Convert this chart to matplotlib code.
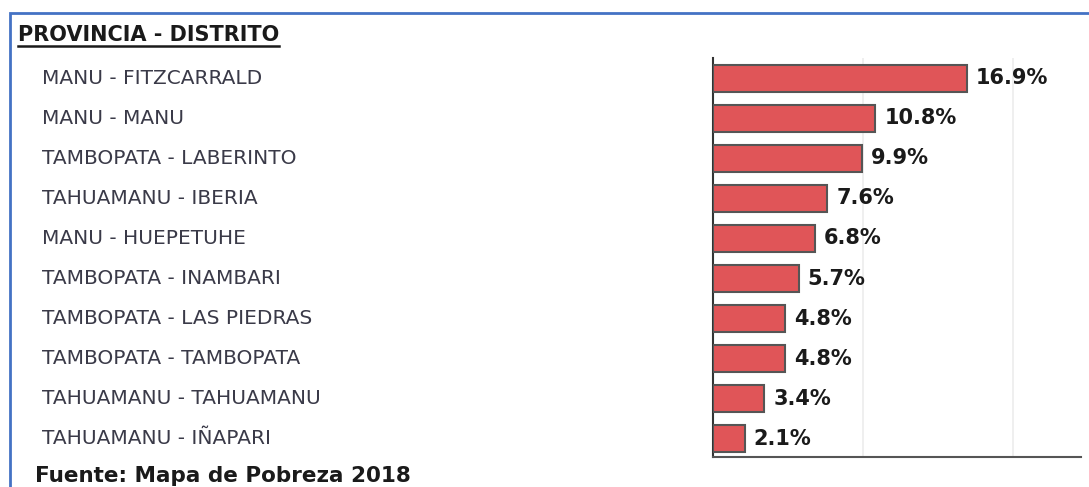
import matplotlib
matplotlib.use("Agg")
import matplotlib.pyplot as plt
from matplotlib.patches import Rectangle

categories = [
    "MANU - FITZCARRALD",
    "MANU - MANU",
    "TAMBOPATA - LABERINTO",
    "TAHUAMANU - IBERIA",
    "MANU - HUEPETUHE",
    "TAMBOPATA - INAMBARI",
    "TAMBOPATA - LAS PIEDRAS",
    "TAMBOPATA - TAMBOPATA",
    "TAHUAMANU - TAHUAMANU",
    "TAHUAMANU - IÑAPARI",
]
values = [16.9, 10.8, 9.9, 7.6, 6.8, 5.7, 4.8, 4.8, 3.4, 2.1]
value_labels = ["16.9%", "10.8%", "9.9%", "7.6%", "6.8%", "5.7%", "4.8%", "4.8%", "3.4%", "2.1%"]
title = "PROVINCIA - DISTRITO"
source = "Fuente: Mapa de Pobreza 2018"

W, H = 1089, 487
fig = plt.figure(figsize=(W / 100, H / 100), dpi=100)
fig.patch.set_facecolor("white")

# blue frame (left and top edges visible)
fig.add_artist(Rectangle((10 / W, -0.1), 1.2, (H - 13) / H + 0.1, transform=fig.transFigure,
                         fill=False, edgecolor="#4472C4", linewidth=2.0))

# axes: left spine x=713, right ~1081, top y=58, bottom y=457
ax = fig.add_axes([713 / W, (H - 457) / H, (1081 - 713) / W, (457 - 58) / H])
y = list(range(len(categories)))
ax.barh(y, values, height=0.67, color="#E05558", edgecolor="#555555", linewidth=1.5, zorder=3)
ax.set_xlim(0, 24.5)
ax.set_ylim(9.46, -0.51)
ax.set_xticks([10, 20])
ax.xaxis.grid(True, color="#ececec", linewidth=1.2, zorder=0)
ax.tick_params(axis="both", length=0, labelbottom=False, labelleft=False)
for s in ["top", "right"]:
    ax.spines[s].set_visible(False)
ax.spines["left"].set_color("#333333")
ax.spines["left"].set_linewidth(1.5)
ax.spines["bottom"].set_color("#555555")
ax.spines["bottom"].set_linewidth(1.5)

for yi, v, lab in zip(y, values, value_labels):
    ax.text(v + 0.6, yi, lab, va="center", ha="left", fontsize=15, fontweight="bold",
            color="#1a1a1a", zorder=4)

# category labels
for yi, cat in zip(y, categories):
    ypx = 78.5 + 40 * yi
    fig.text(42 / W, 1 - ypx / H, cat, ha="left", va="center", fontsize=14.5,
             color="#3a3a48")

t = fig.text(18 / W, 1 - 35 / H, title, ha="left", va="center", fontsize=15,
             fontweight="bold", color="#1a1a1a")
fig.canvas.draw()
bb = t.get_window_extent(renderer=fig.canvas.get_renderer())
# underline matching title width
fig.add_artist(plt.Line2D([18 / W, bb.x1 / W], [1 - 46 / H, 1 - 46 / H], color="#1a1a1a",
                          linewidth=1.8, transform=fig.transFigure))

fig.text(35 / W, 1 - 476 / H, source, ha="left", va="center", fontsize=15.5,
         fontweight="bold", color="#1a1a1a")

fig.savefig("out.png", dpi=100, facecolor="white")
